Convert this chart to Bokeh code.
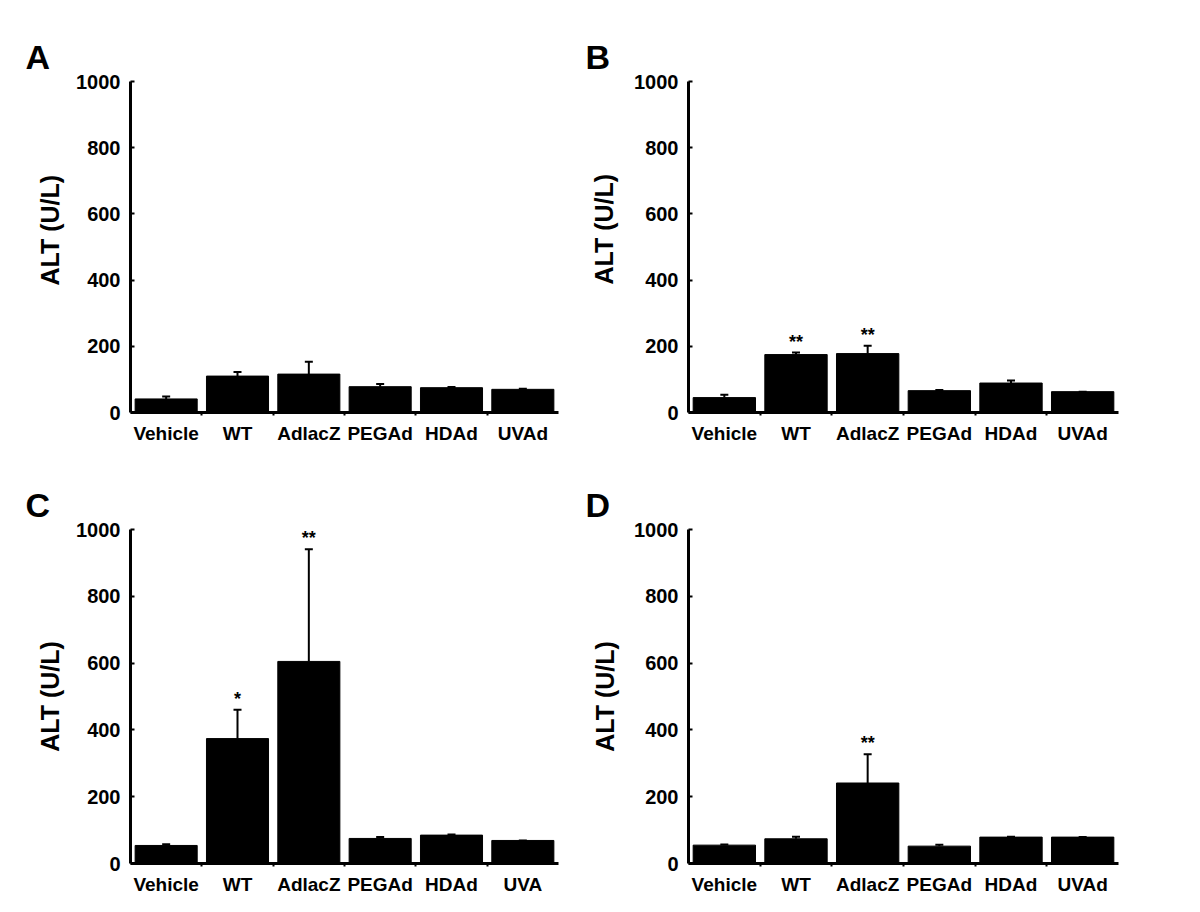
from bokeh.plotting import figure
from bokeh.models import ColumnDataSource, Range1d, FixedTicker, Whisker, TeeHead, Title
from bokeh.layouts import column, row
from bokeh.core.properties import value
from bokeh.embed import file_html
from bokeh.resources import INLINE

# ---- data ----
groups = ["Vehicle", "WT", "AdlacZ", "PEGAd", "HDAd", "UVAd"]
groups_c = ["Vehicle", "WT", "AdlacZ", "PEGAd", "HDAd", "UVA"]

mean_a = [41, 110, 116, 78, 75, 70]
sem_a = [7, 12, 37, 8, 2, 2]
stars_a = ["", "", "", "", "", ""]

mean_b = [45, 175, 178, 66, 89, 63]
sem_b = [9, 6, 24, 2, 8, 0]
stars_b = ["", "**", "**", "", "", ""]

mean_c = [54, 374, 605, 75, 85, 69]
sem_c = [4, 86, 336, 4, 2, 0]
stars_c = ["", "*", "**", "", "", ""]

mean_d = [55, 74, 241, 52, 79, 79]
sem_d = [2, 6, 86, 4, 1, 0]
stars_d = ["", "", "**", "", "", ""]

y_ticks = [0, 200, 400, 600, 800, 1000]
y_title = "ALT (U/L)"

FONT = "Liberation Sans"


def panel(letter, labels, means, sems, stars, width, height, left, right, top, bottom,
          ytitle_align, ytitle_offset, ytitle_standoff):
    n = len(labels)
    xs = [i + 0.5 for i in range(n)]
    upper = [m + s for m, s in zip(means, sems)]
    src = ColumnDataSource(dict(x=xs, mean=means, upper=upper, stars=stars))
    p = figure(width=width, height=height, output_backend="svg", toolbar_location=None,
               x_range=Range1d(0, n), y_range=Range1d(0, 1000),
               min_border_left=left, min_border_right=right,
               min_border_top=top, min_border_bottom=bottom)
    p.outline_line_color = None
    p.grid.visible = False
    p.background_fill_color = "white"

    p.vbar(x="x", top="mean", bottom=0, width=0.87, source=src,
           fill_color="black", line_color="black")
    w = Whisker(source=src, base="x", lower="mean", upper="upper", line_width=2,
                line_color="black", lower_head=None,
                upper_head=TeeHead(size=8, line_width=2, line_color="black"))
    p.add_layout(w)
    p.text(x="x", y="upper", text="stars", source=src, text_align="center",
           text_baseline="alphabetic", y_offset=-11, text_font=value(FONT),
           text_font_style="bold", text_font_size="18px", text_color="black")

    # x axis
    xa = p.xaxis[0]
    xa.ticker = FixedTicker(ticks=xs, minor_ticks=[float(i) for i in range(1, n)])
    xa.major_label_overrides = {x: lab for x, lab in zip(xs, labels)}
    xa.axis_line_width = 3
    xa.axis_line_color = "black"
    xa.major_tick_in = 0
    xa.major_tick_out = 0
    xa.minor_tick_in = 0
    xa.minor_tick_out = 3
    xa.minor_tick_line_width = 2
    xa.minor_tick_line_color = "black"
    xa.major_label_text_font = FONT
    xa.major_label_text_font_style = "bold"
    xa.major_label_text_font_size = "19px"
    xa.major_label_text_color = "black"
    xa.major_label_standoff = 7

    # y axis
    ya = p.yaxis[0]
    ya.ticker = FixedTicker(ticks=y_ticks, minor_ticks=[])
    ya.axis_line_width = 3
    ya.axis_line_color = "black"
    ya.major_tick_in = 4
    ya.major_tick_out = 0
    ya.major_tick_line_width = 2
    ya.major_tick_line_color = "black"
    ya.minor_tick_in = 0
    ya.minor_tick_out = 0
    ya.major_label_text_font = FONT
    ya.major_label_text_font_style = "bold"
    ya.major_label_text_font_size = "20px"
    ya.major_label_text_color = "black"
    ya.major_label_standoff = 10

    # y-axis title as a side title (allows shifting along the axis)
    yt = Title(text=y_title, align=ytitle_align, offset=ytitle_offset,
               standoff=ytitle_standoff, text_font=FONT, text_font_style="bold",
               text_font_size="25px", text_color="black")
    p.add_layout(yt, "left")

    p.title.text = letter
    p.title.align = "left"
    p.title.offset = -(left - 25)
    p.title.text_font = FONT
    p.title.text_font_style = "bold"
    p.title.text_font_size = "34px"
    p.title.text_color = "black"
    p.title.standoff = 11
    return p


pa = panel("A", groups, mean_a, sem_a, stars_a, 560, 450, 130, 2, 81, 33, "left", 127, 19)
pb = panel("B", groups, mean_b, sem_b, stars_b, 600, 450, 128, 42, 77, 38, "left", 128, 27)
pc = panel("C", groups_c, mean_c, sem_c, stars_c, 560, 450, 130, 2, 77, 37, "center", 0, 19)
pd_ = panel("D", groups, mean_d, sem_d, stars_d, 600, 450, 128, 42, 79, 37, "center", 0, 25)

layout = column(row(pa, pb), row(pc, pd_))

open("out.html", "w").write(file_html(layout, INLINE))
